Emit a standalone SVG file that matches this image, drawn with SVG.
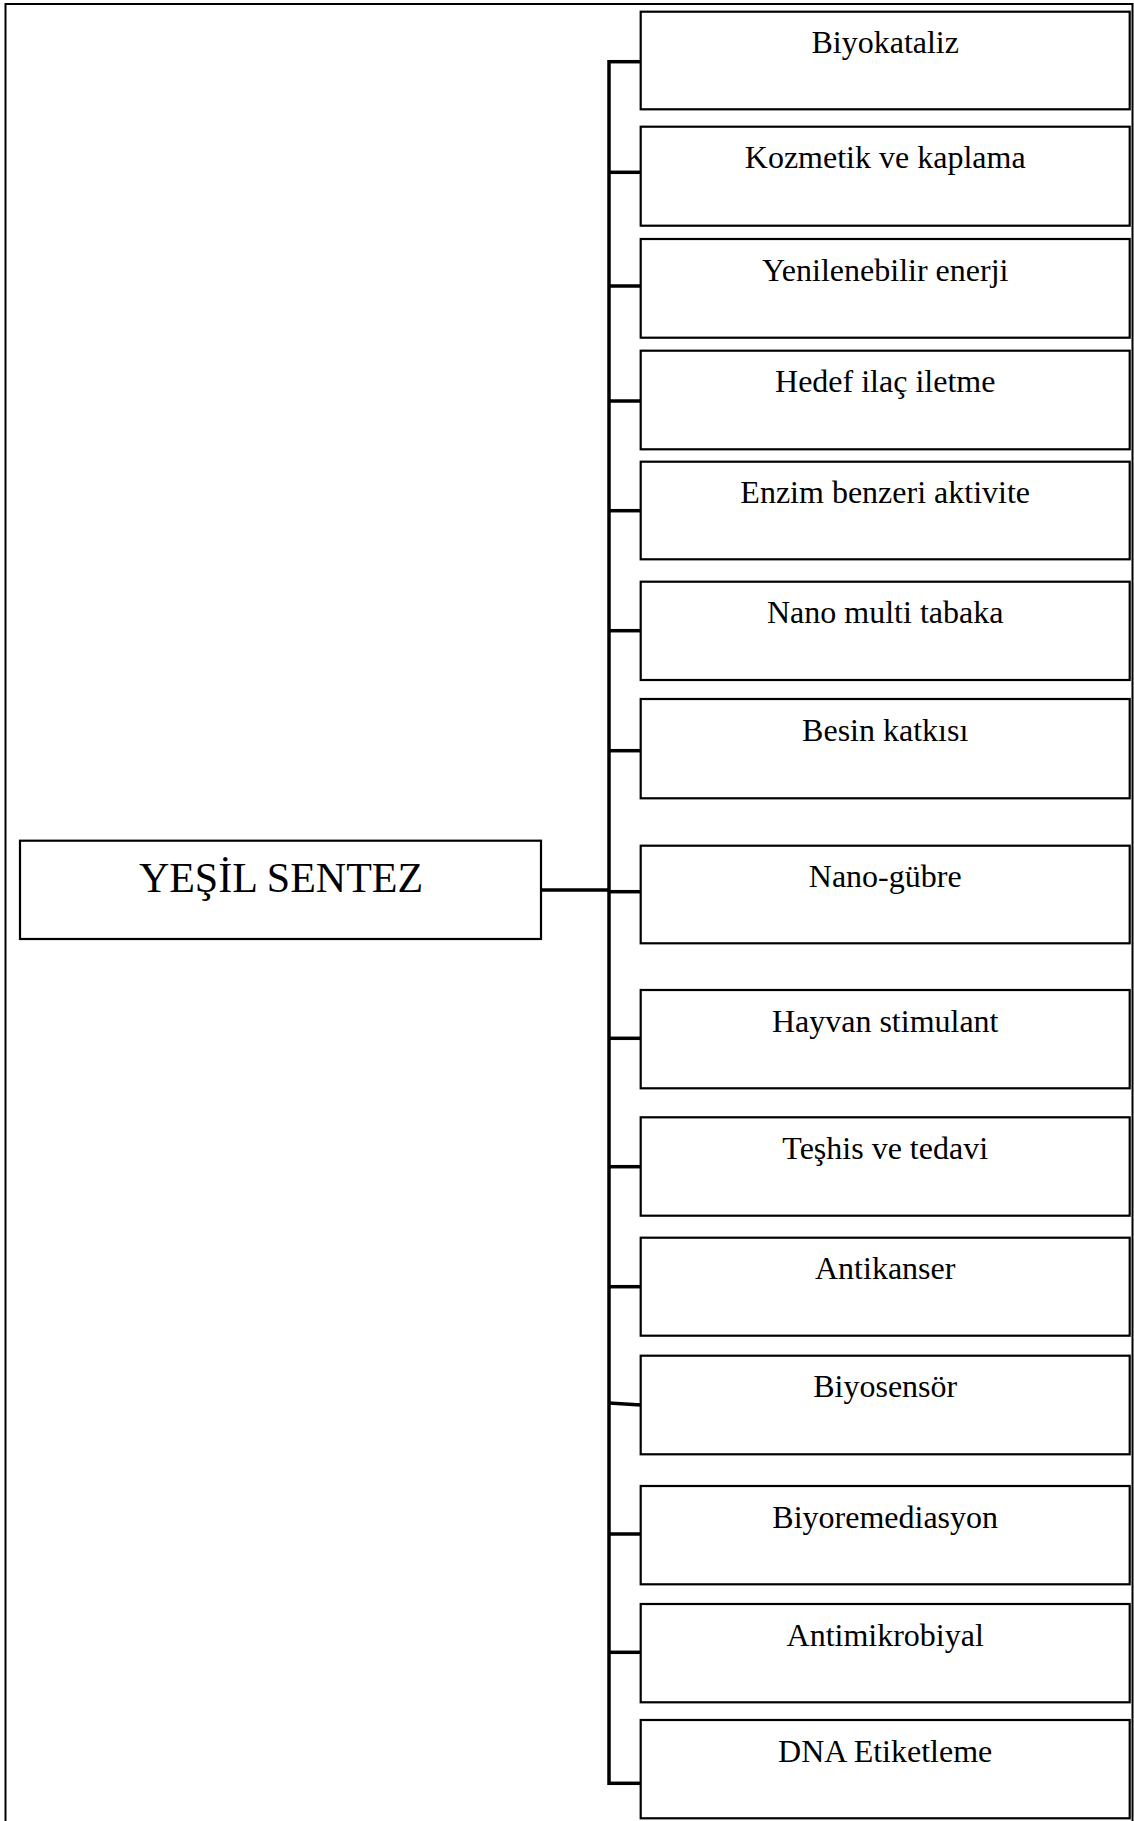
<svg xmlns="http://www.w3.org/2000/svg" width="1134" height="1821" viewBox="0 0 1134 1821">
<style>
.box{fill:#fff;stroke:#000;stroke-width:2.2}
.lbl{font-family:"Liberation Serif","Times New Roman",serif;font-size:32px;fill:#000;text-anchor:middle}
.main{font-family:"Liberation Serif","Times New Roman",serif;font-size:42px;fill:#000;text-anchor:middle}
.con{fill:none;stroke:#000;stroke-width:3.5}
.frame{fill:none;stroke:#000;stroke-width:2}
</style>
<rect width="1134" height="1821" fill="#fff"/>
<path class="frame" d="M5.5,1825 V4 H1132.5 V1825"/>
<g id="connectors">
<path class="con" d="M541,890 H609"/>
<path class="con" d="M609,60 V1785"/>
<path class="con" d="M609,61.7 H641"/>
<path class="con" d="M609,172.3 H641"/>
<path class="con" d="M609,286 H641"/>
<path class="con" d="M609,401 H641"/>
<path class="con" d="M609,510.7 H641"/>
<path class="con" d="M609,630.7 H641"/>
<path class="con" d="M609,750.7 H641"/>
<path class="con" d="M609,891.7 H641"/>
<path class="con" d="M609,1038.3 H641"/>
<path class="con" d="M609,1166.7 H641"/>
<path class="con" d="M609,1286.7 H641"/>
<path class="con" d="M609,1403 L641,1405"/>
<path class="con" d="M609,1534 H641"/>
<path class="con" d="M609,1652.3 H641"/>
<path class="con" d="M609,1783.3 H641"/>
</g>
<g id="main"><rect class="box" x="20" y="840.7" width="521" height="98.3"/><text class="main" x="281" y="891.7">YEŞİL SENTEZ</text></g>
<g id="n1"><rect class="box" x="640.7" y="11.7" width="489" height="97.6"/><text class="lbl" x="885.2" y="53.3">Biyokataliz</text></g>
<g id="n2"><rect class="box" x="640.7" y="126.7" width="489" height="99"/><text class="lbl" x="885.2" y="168.3">Kozmetik ve kaplama</text></g>
<g id="n3"><rect class="box" x="640.7" y="239" width="489" height="98.7"/><text class="lbl" x="885.2" y="280.6">Yenilenebilir enerji</text></g>
<g id="n4"><rect class="box" x="640.7" y="350.7" width="489" height="98.6"/><text class="lbl" x="885.2" y="392.3">Hedef ilaç iletme</text></g>
<g id="n5"><rect class="box" x="640.7" y="461.7" width="489" height="97.6"/><text class="lbl" x="885.2" y="503.3">Enzim benzeri aktivite</text></g>
<g id="n6"><rect class="box" x="640.7" y="581.7" width="489" height="98.3"/><text class="lbl" x="885.2" y="623.3">Nano multi tabaka</text></g>
<g id="n7"><rect class="box" x="640.7" y="699" width="489" height="99.3"/><text class="lbl" x="885.2" y="741">Besin katkısı</text></g>
<g id="n8"><rect class="box" x="640.7" y="845.7" width="489" height="97.6"/><text class="lbl" x="885.2" y="886.9">Nano-gübre</text></g>
<g id="n9"><rect class="box" x="640.7" y="990" width="489" height="98.3"/><text class="lbl" x="885.2" y="1031.6">Hayvan stimulant</text></g>
<g id="n10"><rect class="box" x="640.7" y="1117.3" width="489" height="98.4"/><text class="lbl" x="885.2" y="1158.9">Teşhis ve tedavi</text></g>
<g id="n11"><rect class="box" x="640.7" y="1237.7" width="489" height="98"/><text class="lbl" x="885.2" y="1279.3">Antikanser</text></g>
<g id="n12"><rect class="box" x="640.7" y="1355.7" width="489" height="98.6"/><text class="lbl" x="885.2" y="1397.3">Biyosensör</text></g>
<g id="n13"><rect class="box" x="640.7" y="1486" width="489" height="98.3"/><text class="lbl" x="885.2" y="1527.6">Biyoremediasyon</text></g>
<g id="n14"><rect class="box" x="640.7" y="1604" width="489" height="98.3"/><text class="lbl" x="885.2" y="1645.6">Antimikrobiyal</text></g>
<g id="n15"><rect class="box" x="640.7" y="1720" width="489" height="98.3"/><text class="lbl" x="885.2" y="1761.6">DNA Etiketleme</text></g>
</svg>
